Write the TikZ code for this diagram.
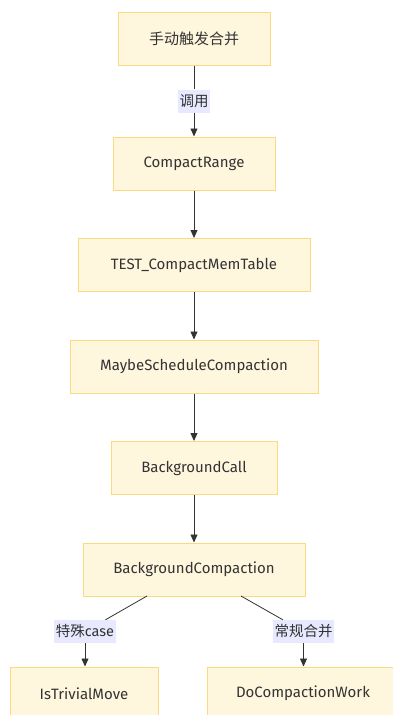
\documentclass[tikz,border=0pt]{standalone}
\usepackage{fontspec}
\setmainfont{Fira Sans}
\newfontfamily\cjk{Noto Sans CJK SC}
\usetikzlibrary{arrows.meta,positioning}
\definecolor{boxfill}{RGB}{255, 246, 222}
\definecolor{boxdraw}{RGB}{250, 218, 128}
\definecolor{lblfill}{RGB}{232, 232, 255}
\definecolor{linegray}{RGB}{51, 51, 51}

\begin{document}
\begin{tikzpicture}[x=1pt, y=-1pt,
    proc/.style={draw=boxdraw, fill=boxfill, line width=1pt, minimum height=53pt,
        font=\fontsize{15}{17}\selectfont, text=linegray},
    lbl/.style={fill=lblfill, inner sep=1.5pt, minimum height=23pt,
        font=\fontsize{14.5}{16}\selectfont, text=linegray},
    link/.style={draw=linegray, line width=0.8pt},
    arrow/.style={link, -{Triangle[length=8pt,width=7pt]}}]
            \useasboundingbox (0,0) rectangle (393,715);

            % main chain
            \node[proc, minimum width=152pt] (manual) at (194,38.5) {\cjk 手动触发合并};
            \node[proc, minimum width=162pt] (range) at (194,163.5) {CompactRange};
            \node[proc, minimum width=232pt] (memTable) at (194,265) {TEST\_CompactMemTable};
            \node[proc, minimum width=248pt] (maybeSched) at (194,366.5) {MaybeScheduleCompaction};
            \node[proc, minimum width=166pt] (bgCall) at (194,468) {BackgroundCall};
            \node[proc, minimum width=222pt] (bgComp) at (194,569.5) {BackgroundCompaction};

            % bottom row
            \node[proc, minimum width=148pt] (trivial) at (84,693.5) {IsTrivialMove};
            \node[proc, minimum width=192pt] (doWork) at (303,693.5) {DoCompactionWork};

            % edge labels
            \node[lbl] (callLbl) at (194,101) {\cjk 调用};
            \node[lbl] (specialLbl) at (85,631.5) {{\cjk 特殊}case};
            \node[lbl] (normalLbl) at (303.5,631.5) {\cjk 常规合并};

            \coordinate (splitL) at (147,596);
            \coordinate (splitR) at (241,596);

            % connectors
            \draw[link] (manual) -- (callLbl);
            \draw[arrow] (callLbl) -- (range);
            \draw[arrow] (range) -- (memTable);
            \draw[arrow] (memTable) -- (maybeSched);
            \draw[arrow] (maybeSched) -- (bgCall);
            \draw[arrow] (bgCall) -- (bgComp);
            \draw[link] (splitL) -- (specialLbl);
            \draw[arrow] (specialLbl) -- (specialLbl |- trivial.north);
            \draw[link] (splitR) -- (normalLbl);
            \draw[arrow] (normalLbl) -- (normalLbl |- doWork.north);
        \end{tikzpicture}
\end{document}
